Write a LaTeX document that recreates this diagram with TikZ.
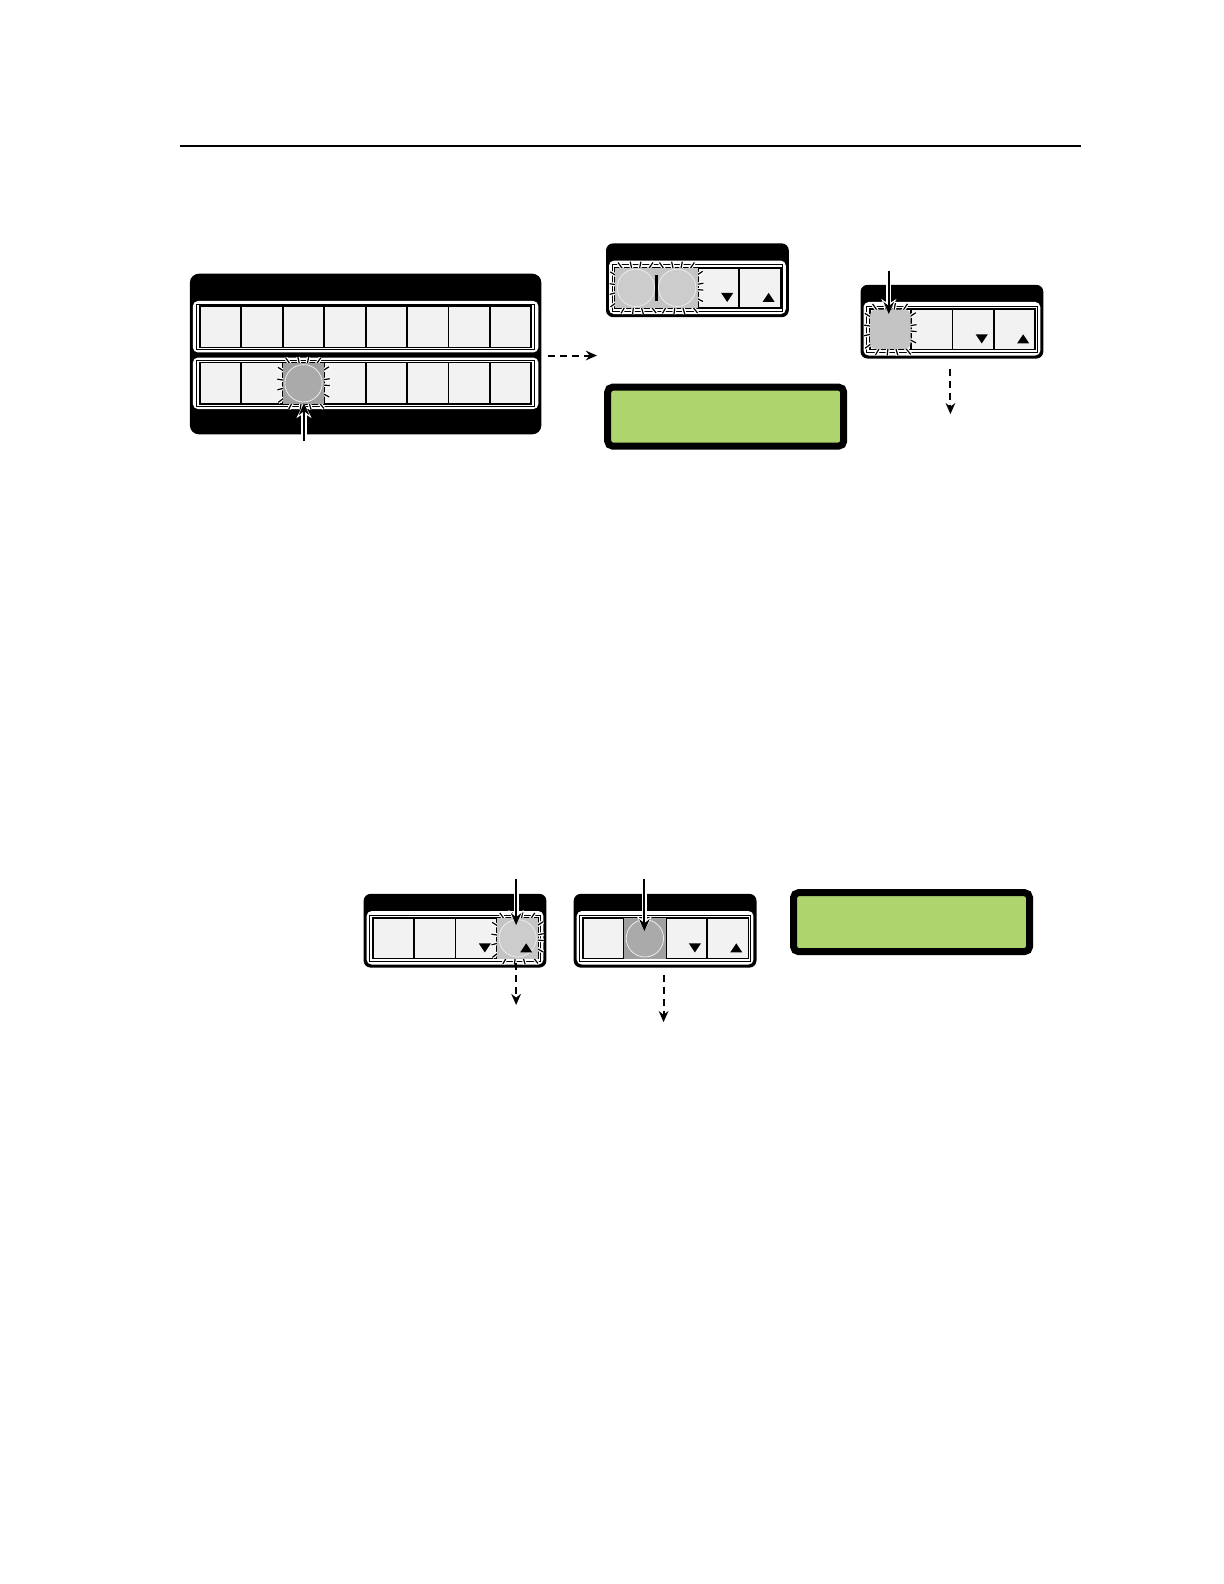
\documentclass[tikz,border=0pt]{standalone}
\usetikzlibrary{arrows.meta}
\definecolor{lcd}{RGB}{174,212,110}
\definecolor{btn}{RGB}{242,242,242}
\definecolor{litdark}{RGB}{160,160,160}
\definecolor{litdarkc}{RGB}{170,170,170}
\definecolor{litlight}{RGB}{196,196,196}
\definecolor{litlightc}{RGB}{204,204,204}
\tikzset{
  panelbody/.style={fill=black, rounded corners=3.5pt},
  panelface/.style={fill=white, rounded corners=2.5pt},
  btnframe/.style={draw=black, line width=0.5pt},
  keybtn/.style={draw=black, fill=btn, line width=0.9pt},
  pressarrow/.style={line width=1pt, -{Stealth[length=6pt,width=5.2pt]}},
  presshalo/.style={white, line width=2.6pt, -{Stealth[length=7.5pt,width=7.5pt]}},
  flowarrow/.style={line width=1pt, dash pattern=on 3.5pt off 2.5pt, -{Stealth[length=5.5pt,width=4.8pt]}},
  lcdbox/.style={draw=black, line width=3.5pt, fill=lcd, rounded corners=2.5pt},
  rule/.style={line width=1pt},
}
% four-button panel, top-left corner (#1,#2)
\newcommand\fourpanel[2]{%
  \fill[panelbody] (#1,#2) rectangle ++(181,73);
  \fill[panelface] (#1+3,#2+17) rectangle ++(175,53);
  \draw[btnframe] (#1+6,#2+21) rectangle ++(169,46);
  \foreach \k in {0,1,2,3} \draw[keybtn] (#1+9+41*\k,#2+24) rectangle ++(41,40);
}
\newcommand\arrowsymbols[2]{%
  \fill (#1+114,#2+49) -- (#1+126,#2+49) -- (#1+120,#2+58) -- cycle;
  \fill (#1+155,#2+58) -- (#1+167,#2+58) -- (#1+161,#2+49) -- cycle;
}
% lit key: centre, square colour, circle colour
\newcommand\litkey[4]{%
  \fill[#3] (#1-20.5,#2-20) rectangle (#1+20.5,#2+20);
  \filldraw[fill=#4, draw=white!85!gray, line width=0.4pt] (#1,#2) circle[radius=18.5];
}
\newcommand\litrays[2]{%
  \foreach \a in {5,28,...,350} {
    \pgfmathsetmacro\rr{21/max(abs(cos(\a)),abs(sin(\a)))}
    \pgfmathsetmacro\xa{#1+(\rr-3)*cos(\a)}
    \pgfmathsetmacro\ya{#2+(\rr-3)*sin(\a)}
    \pgfmathsetmacro\xb{#1+(\rr+5)*cos(\a)}
    \pgfmathsetmacro\yb{#2+(\rr+5)*sin(\a)}
    \draw[white, line width=1.8pt] (\xa,\ya) -- (\xb,\yb);
    \draw[black, line width=0.6pt] (\xa,\ya) -- (\xb,\yb);
  }
}
\begin{document}
\begin{tikzpicture}
\useasboundingbox (0pt,-792pt) rectangle (612pt,0pt);
\fill[white] (0pt,-792pt) rectangle (612pt,0pt);
\begin{scope}[x=0.505pt,y=0.505pt,yscale=-1]

% top rule
\coordinate (ruleL) at (178,145);
\coordinate (ruleR) at (1070,145);
\draw[rule] (ruleL) -- (ruleR);

% ---------- panel 1 (8+8 buttons)
\fill[panelbody, rounded corners=4.5pt] (188,271) rectangle (536,430);
\fill[panelface] (191,298) rectangle (533,349);
\fill[panelface] (191,354) rectangle (533,405);
\draw[btnframe] (195,301) rectangle (529,346);
\draw[btnframe] (195,357) rectangle (529,402);
\foreach \k in {0,...,7} {
  \draw[keybtn] (198+41*\k,303) rectangle ++(41,41);
  \draw[keybtn] (198+41*\k,359) rectangle ++(41,41);
}
\litrays{300.5}{379.5}
\litkey{300.5}{379.5}{litdark}{litdarkc}
\coordinate (p1in) at (301,437);
\coordinate (p1tip) at (301,399);
\draw[presshalo] (p1in) -- (p1tip);
\draw[pressarrow] (p1in) -- (p1tip);

\coordinate (p1outA) at (543,352);
\coordinate (p1outB) at (591,352);
\draw[flowarrow] (p1outA) -- (p1outB);

% ---------- panel 2
\fourpanel{600}{241}
\litrays{629.5}{285}
\litrays{670.5}{285}
\litkey{629.5}{285}{litlight}{litlightc}
\litkey{670.5}{285}{litlight}{litlightc}
\fill (648.5,272) rectangle (651.5,298);
\arrowsymbols{600}{241}

% LCD 1
\node[lcdbox, minimum width=118pt, minimum height=29.5pt, inner sep=0pt, anchor=center] (lcd1) at (718.5,412.5) {};

% ---------- panel 3
\fourpanel{852}{282}
\litrays{881.5}{326}
\fill[litlight, rounded corners=3pt] (861.5,306.5) rectangle (901.5,345.5);
\arrowsymbols{852}{282}
\coordinate (p3in) at (880,268);
\coordinate (p3tip) at (880,311);
\draw[presshalo] (p3in) -- (p3tip);
\draw[pressarrow] (p3in) -- (p3tip);
\coordinate (p3outA) at (941,365);
\coordinate (p3outB) at (941,410);
\draw[flowarrow] (p3outA) -- (p3outB);

% ---------- panel 4
\fourpanel{360}{885}
\litrays{512.5}{929}
\litkey{512.5}{929}{litlight}{litlightc}
\arrowsymbols{360}{885}
\coordinate (p4in) at (511,870);
\coordinate (p4tip) at (511,916);
\draw[presshalo] (p4in) -- (p4tip);
\draw[pressarrow] (p4in) -- (p4tip);
\coordinate (p4outA) at (511,953);
\coordinate (p4outB) at (511,995);
\draw[flowarrow] (p4outA) -- (p4outB);

% ---------- panel 5
\fourpanel{568}{885}
\litkey{638.5}{929}{litdark}{litdarkc}
\arrowsymbols{568}{885}
\coordinate (p5in) at (638,870);
\coordinate (p5tip) at (638,922);
\draw[presshalo] (p5in) -- (p5tip);
\draw[pressarrow] (p5in) -- (p5tip);
\coordinate (p5outA) at (657,965);
\coordinate (p5outB) at (657,1012);
\draw[flowarrow] (p5outA) -- (p5outB);

% LCD 2
\node[lcdbox, minimum width=118pt, minimum height=29.5pt, inner sep=0pt, anchor=center] (lcd2) at (902.5,913) {};
\end{scope}
\end{tikzpicture}
\end{document}
